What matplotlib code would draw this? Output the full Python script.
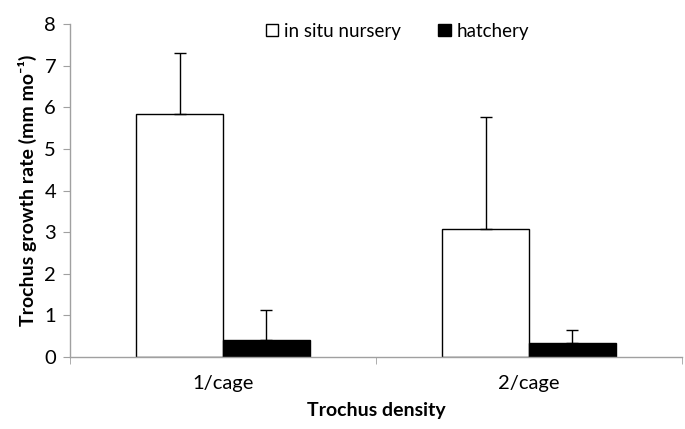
import numpy as np
import matplotlib.pyplot as plt

# Data
categories = ["1/cage", "2/cage"]
in_situ = [5.85, 3.07]
in_situ_err = [1.45, 2.70]
hatchery = [0.41, 0.33]
hatchery_err = [0.71, 0.32]

plt.rcParams['font.family'] = ['Lato', 'DejaVu Sans']
plt.rcParams['font.size'] = 13

AXIS_GRAY = "#a0a0a0"

fig = plt.figure(figsize=(6.85, 4.29), dpi=100)
ax = fig.add_axes([0.1022, 0.1678, 0.8934, 0.7762])

x = np.arange(len(categories))
w = 0.284

ax.bar(x - w / 2, in_situ, w, color="white", edgecolor="black", linewidth=1.0,
       label="in situ nursery", zorder=2)
ax.bar(x + w / 2, hatchery, w, color="black", edgecolor="black", linewidth=1.0,
       label="hatchery", zorder=2)

# one-sided error bars (upper only)
ax.errorbar(x - w / 2, in_situ, yerr=[[0, 0], in_situ_err], fmt="none",
            ecolor="black", elinewidth=1.0, capsize=4, capthick=1.0, zorder=3)
ax.errorbar(x + w / 2, hatchery, yerr=[[0, 0], hatchery_err], fmt="none",
            ecolor="black", elinewidth=1.0, capsize=4, capthick=1.0, zorder=3)

ax.set_xlim(-0.5, 1.5)
ax.set_ylim(0, 8)
ax.set_yticks(range(0, 9))

ax.set_xticks(x)
ax.set_xticklabels(categories)
ax.set_xticks([-0.5, 0.5, 1.5], minor=True)
ax.tick_params(axis="x", which="major", length=0, pad=13, labelsize=14.5)
ax.tick_params(axis="x", which="minor", length=5, color=AXIS_GRAY, direction="out")
ax.tick_params(axis="y", length=5, color=AXIS_GRAY, direction="out", labelsize=14.5, pad=5)

for s in ["top", "right"]:
    ax.spines[s].set_visible(False)
for s in ["left", "bottom"]:
    ax.spines[s].set_color(AXIS_GRAY)
    ax.spines[s].set_linewidth(1.0)
    ax.spines[s].set_zorder(4)

ax.set_xlabel("Trochus density", fontweight="bold", fontsize=14, labelpad=7)
ax.set_ylabel("Trochus growth rate (mm mo\u207b\u00b9)", fontweight="bold", fontsize=14,
              labelpad=5)

ax.legend(loc="upper center", bbox_to_anchor=(0.535, 1.055), ncol=2, frameon=False,
          fontsize=13.5, handlelength=0.65, handleheight=0.65, handletextpad=0.3,
          columnspacing=2.0)

fig.savefig("out.png", dpi=100)
